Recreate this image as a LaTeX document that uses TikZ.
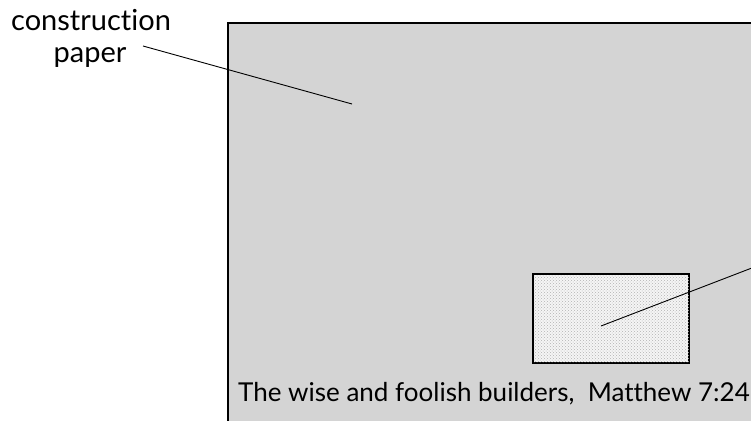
\documentclass[tikz,border=0pt]{standalone}
\usepackage{fontspec}
\setmainfont{Lato}[Ligatures=CommonOff]
\usetikzlibrary{patterns}
\begin{document}
\begin{tikzpicture}[x=1pt,y=1pt,
  paper/.style={draw=black,line width=1.6pt,fill=black!17},
  card/.style={draw=black,line width=1.3pt,fill=black!4,minimum width=155,minimum height=88,inner sep=0,anchor=north west},
  lbl/.style={font=\fontsize{29}{32}\selectfont,inner sep=0pt,anchor=base},
  caption/.style={font=\fontsize{26}{30}\selectfont,inner sep=0pt,anchor=base west},
  leader/.style={line width=0.9pt}]
\useasboundingbox (0,0) rectangle (751,420);
\clip (0,0) rectangle (751,420);
\fill[white] (0,0) rectangle (751,420);
\draw[paper] (228,397) rectangle (770,-20);
\node[card] (cardbg) at (533,146) {};
\fill[pattern=crosshatch dots,pattern color=black!30] (cardbg.south west) rectangle (cardbg.north east);
\draw[line width=1.3pt] (cardbg.south west) rectangle (cardbg.north east);
\node[lbl] (cp1) at (91,389) {construction};
\node[lbl] (cp2) at (90,357) {paper};
\coordinate (cpstart) at (143,374);
\coordinate (cpend) at (352,316);
\draw[leader] (cpstart) -- (cpend);
\coordinate (cardpt) at (601,94);
\coordinate (offright) at (770,159);
\draw[leader] (cardpt) -- (offright);
\node[caption] (cap) at (238,19) {The wise and foolish builders,\ \ Matthew 7:24};
\end{tikzpicture}
\end{document}
